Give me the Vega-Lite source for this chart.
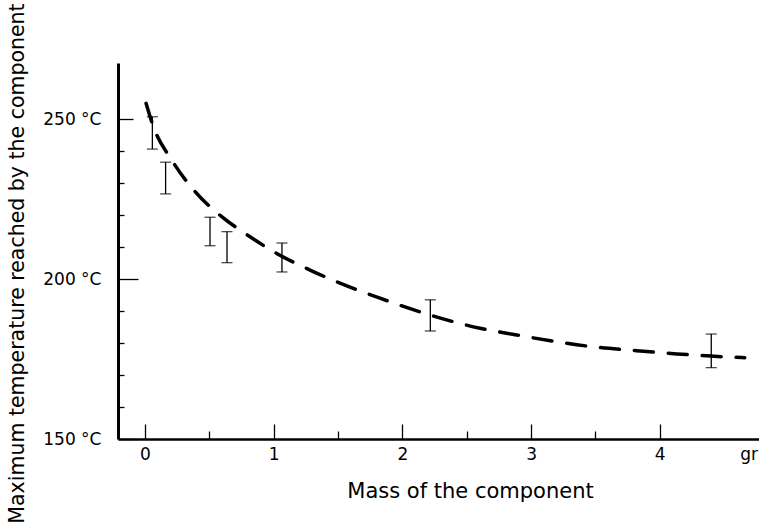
{
  "$schema": "https://vega.github.io/schema/vega-lite/v6.json",
  "autosize": "none",
  "padding": {"left": 118, "top": 63, "right": 0, "bottom": 87},
  "width": 641,
  "height": 376,
  "background": "white",
  "config": {"view": {"stroke": null}, "font": "DejaVu Sans"},
  "datasets": {
    "curve": [
      {"mass": 0.008, "temp": 254.9},
      {"mass": 0.065, "temp": 247.6},
      {"mass": 0.207, "temp": 237.2},
      {"mass": 0.389, "temp": 227.3},
      {"mass": 0.596, "temp": 219.5},
      {"mass": 0.816, "temp": 213.2},
      {"mass": 1.023, "temp": 208.0},
      {"mass": 1.282, "temp": 202.8},
      {"mass": 1.515, "temp": 198.7},
      {"mass": 1.826, "temp": 194.0},
      {"mass": 2.214, "temp": 188.75},
      {"mass": 2.603, "temp": 184.6},
      {"mass": 2.888, "temp": 182.5},
      {"mass": 3.2, "temp": 180.4},
      {"mass": 3.485, "temp": 178.8},
      {"mass": 3.82, "temp": 177.6},
      {"mass": 4.131, "temp": 176.6},
      {"mass": 4.4, "temp": 175.9},
      {"mass": 4.66, "temp": 175.4}
    ],
    "bars": [
      {"mass": 0.057, "low": 240.6, "high": 250.7},
      {"mass": 0.16, "low": 226.6, "high": 236.5},
      {"mass": 0.505, "low": 210.4, "high": 219.3},
      {"mass": 0.637, "low": 205.1, "high": 214.8},
      {"mass": 1.064, "low": 202.2, "high": 211.25},
      {"mass": 2.217, "low": 183.75, "high": 193.5},
      {"mass": 4.4, "low": 172.3, "high": 182.8}
    ]
  },
  "resolve": {"axis": {"x": "independent", "y": "independent"}},
  "layer": [
    {
      "data": {"name": "curve"},
      "mark": {"type": "line", "color": "black", "strokeWidth": 3.5, "strokeDash": [19, 15], "strokeCap": "round", "interpolate": "monotone", "clip": false},
      "encoding": {
        "x": {
          "field": "mass", "type": "quantitative",
          "scale": {"domain": [-0.21, 4.771], "nice": false, "zero": false},
          "axis": {
            "orient": "bottom",
            "title": "Mass of the component",
            "titleFont": "DejaVu Sans", "titleFontSize": 21, "titleFontWeight": "normal", "titleColor": "black",
            "titleX": 352, "titleY": 58, "titleBaseline": "alphabetic", "titleAlign": "center", "titleAnchor": null,
            "values": [0, 1, 2, 3, 4],
            "labelFont": "DejaVu Sans", "labelFontSize": 17, "labelColor": "black", "labelPadding": 22,
            "labelFlush": false, "labelOverlap": false,
            "tickColor": "black", "tickWidth": 1.3, "tickSize": -15,
            "domainColor": "black", "domainWidth": 2.5, "grid": false
          }
        },
        "y": {
          "field": "temp", "type": "quantitative",
          "scale": {"domain": [150, 267.5], "nice": false, "zero": false},
          "axis": {
            "orient": "left",
            "title": "Maximum temperature reached by the component",
            "titleFont": "DejaVu Sans", "titleFontSize": 20.5, "titleFontWeight": "normal", "titleColor": "black",
            "titleX": -95, "titleY": 200, "titleAngle": -90, "titleBaseline": "alphabetic", "titleAlign": "center", "titleAnchor": null,
            "values": [150, 250],
            "labelExpr": "datum.value + ' °C'",
            "labelFont": "DejaVu Sans", "labelFontSize": 17, "labelColor": "black", "labelPadding": 32,
            "labelFlush": false, "labelOverlap": false,
            "tickColor": "black", "tickWidth": 1.3, "tickSize": -15,
            "domainColor": "black", "domainWidth": 3, "grid": false
          }
        }
      }
    },
    {
      "data": {"name": "bars"},
      "mark": {"type": "rule", "color": "black", "strokeWidth": 1.3},
      "encoding": {
        "x": {"field": "mass", "type": "quantitative",
          "axis": {"orient": "bottom", "title": null, "values": [0.5, 1.5, 2.5, 3.5], "labels": false, "domain": false, "grid": false,
            "tickColor": "black", "tickWidth": 1.3, "tickSize": -8}},
        "y": {"field": "low", "type": "quantitative",
          "axis": {"orient": "left", "title": null, "values": [160, 170, 180, 190, 210, 220, 230, 240], "labels": false, "domain": false, "grid": false,
            "tickColor": "black", "tickWidth": 1.3, "tickSize": -6}},
        "y2": {"field": "high"}
      }
    },
    {
      "data": {"name": "bars"},
      "mark": {"type": "tick", "color": "black", "orient": "horizontal", "size": 11, "thickness": 1.3},
      "encoding": {
        "x": {"field": "mass", "type": "quantitative",
          "axis": {"orient": "bottom", "title": null, "values": [4.69], "labelExpr": "'gr'", "ticks": false, "tickSize": 0, "domain": false, "grid": false,
            "labelFont": "DejaVu Sans", "labelFontSize": 17, "labelColor": "black", "labelPadding": 7, "labelFlush": false, "labelOverlap": false}},
        "y": {"field": "low", "type": "quantitative",
          "axis": {"orient": "left", "title": null, "values": [200], "labelExpr": "datum.value + ' °C'", "domain": false, "grid": false,
            "labelFont": "DejaVu Sans", "labelFontSize": 17, "labelColor": "black", "labelPadding": 37, "labelFlush": false, "labelOverlap": false,
            "tickColor": "black", "tickWidth": 1.3, "tickSize": -20}}
      }
    },
    {
      "data": {"name": "bars"},
      "mark": {"type": "tick", "color": "black", "orient": "horizontal", "size": 11, "thickness": 1.3},
      "encoding": {
        "x": {"field": "mass", "type": "quantitative", "axis": null},
        "y": {"field": "high", "type": "quantitative", "axis": null}
      }
    }
  ]
}
